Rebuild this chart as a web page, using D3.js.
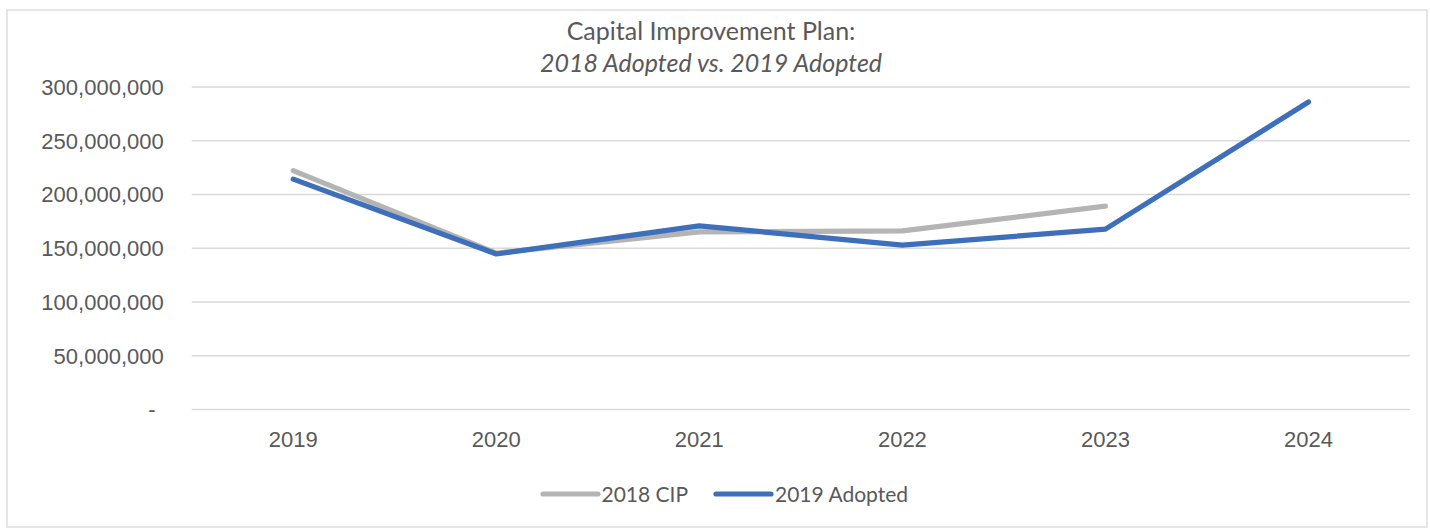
<!DOCTYPE html>
<html><head><meta charset="utf-8">
<script src="https://cdn.jsdelivr.net/npm/d3@7"></script>
<style>
body{margin:0;background:#fff;}
svg{display:block;font-family:Lato,"Open Sans",sans-serif;}
</style></head>
<body><svg id="c" width="1430" height="528"></svg>
<script>
const years = ["2019","2020","2021","2022","2023","2024"];
const cip2018 = [221.7e6, 145e6, 164.8e6, 165.7e6, 188.7e6, null];
const adopted2019 = [213.8e6, 144.2e6, 170.4e6, 152.4e6, 167.3e6, 285.6e6];
const yTicks = [0, 50e6, 100e6, 150e6, 200e6, 250e6, 300e6];
const seriesNames = ["2018 CIP", "2019 Adopted"];
const seriesColors = ["#b4b4b4", "#3d6fba"];
const titleLine1 = "Capital Improvement Plan:";
const titleLine2 = "2018 Adopted vs. 2019 Adopted";

const svg = d3.select("#c");
const m = {left:191.7, right:1410, top:86.5, bottom:409};
const textColor = "#595959";

svg.append("rect").attr("x",7).attr("y",10).attr("width",1420).attr("height",517)
  .attr("fill","#fff").attr("stroke","#d9d9d9").attr("stroke-width",1.3);

const x = d3.scaleBand().domain(years).range([m.left, m.right]);
const y = d3.scaleLinear().domain([0, 300e6]).range([m.bottom, m.top]);

const fmt = d3.format(",");
const yAxis = d3.axisLeft(y).tickValues(yTicks).tickSize(-(m.right-m.left)).tickPadding(28)
  .tickFormat(d => d === 0 ? "-" : fmt(d));
const gy = svg.append("g").attr("transform",`translate(${m.left},0)`).call(yAxis);
gy.select(".domain").remove();
gy.selectAll(".tick line").attr("stroke","#d9d9d9").attr("stroke-width",1.3);
gy.selectAll(".tick text").attr("fill",textColor).style("font-size","22px")
  .attr("dy","0.36em");
gy.selectAll(".tick").filter(d=>d===0).select("text").attr("dx","-8");

const xAxis = d3.axisBottom(x).tickSize(0).tickPadding(22);
const gx = svg.append("g").attr("transform",`translate(0,${m.bottom})`).call(xAxis);
gx.select(".domain").remove();
gx.selectAll(".tick text").attr("fill",textColor).style("font-size","22px");

[cip2018, adopted2019].forEach((s,i) => {
  svg.append("path").datum(s).attr("d", d3.line().defined(d=>d!=null)
      .x((d,j)=>x(years[j])+x.bandwidth()/2).y(d=>y(d)))
    .attr("fill","none").attr("stroke",seriesColors[i]).attr("stroke-width",5.2)
    .attr("stroke-linejoin","round").attr("stroke-linecap","round");
});

svg.append("text").attr("x",711).attr("y",40).attr("text-anchor","middle")
  .attr("fill",textColor).style("font-size","25px").text(titleLine1);
svg.append("text").attr("x",711).attr("y",72).attr("text-anchor","middle")
  .attr("fill",textColor).style("font-size","25px").style("font-style","italic").text(titleLine2);

const legendItems = [{x1:543,x2:598,tx:601.5},{x1:716,x2:771,tx:775}];
legendItems.forEach((L,i)=>{
  svg.append("line").attr("x1",L.x1).attr("x2",L.x2).attr("y1",494).attr("y2",494)
    .attr("stroke",seriesColors[i]).attr("stroke-width",5.2).attr("stroke-linecap","round");
  svg.append("text").attr("x",L.tx).attr("y",494).attr("dy","0.36em")
    .attr("fill",textColor).style("font-size","21px").text(seriesNames[i]);
});
</script></body></html>
